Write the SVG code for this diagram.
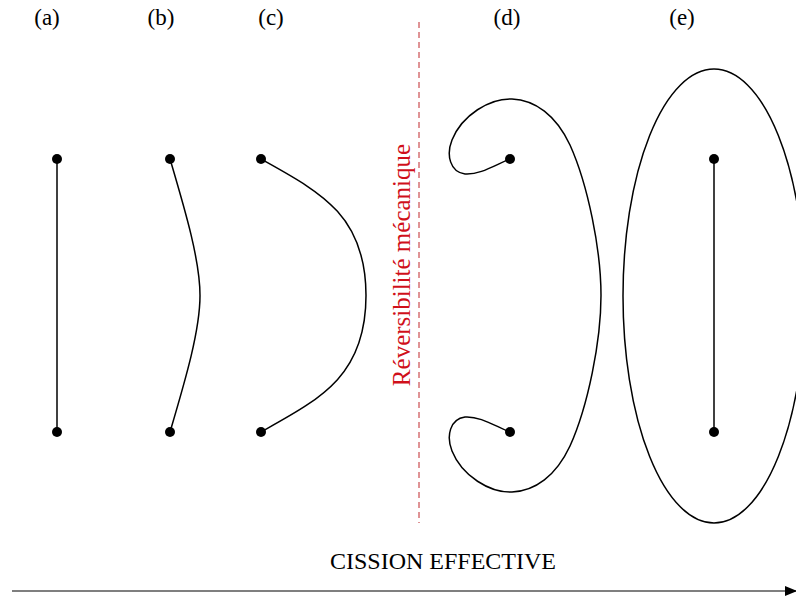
<svg xmlns="http://www.w3.org/2000/svg" width="796" height="597" viewBox="0 0 796 597">
<style>
.lbl{font-family:"Liberation Serif","Times New Roman",serif;font-size:23px;fill:#000;text-anchor:middle}
.big{font-size:24px}
.chain{fill:none;stroke:#000;stroke-width:1.5}
.dot{fill:#000}
</style>
<defs>
<marker id="ah" markerWidth="12" markerHeight="10" refX="11" refY="5" orient="auto" markerUnits="userSpaceOnUse">
<path d="M0,0 L12,5 L0,10 Z" fill="#000"/>
</marker>
</defs>
<rect width="796" height="597" fill="#fff"/>
<g id="labels">
<text class="lbl" x="47" y="25">(a)</text>
<text class="lbl" x="161" y="25">(b)</text>
<text class="lbl" x="271" y="25">(c)</text>
<text class="lbl" x="507" y="25">(d)</text>
<text class="lbl" x="682" y="25">(e)</text>
</g>
<g id="a">
<path class="chain" d="M57,159 L57,432"/>
<circle class="dot" cx="57" cy="159" r="5"/><circle class="dot" cx="57" cy="432" r="5"/>
</g>
<g id="b">
<path class="chain" d="M170,159 C185,210 200,260 200,295.5 C200,331 185,381 170,432"/>
<circle class="dot" cx="170" cy="159" r="5"/><circle class="dot" cx="170" cy="432" r="5"/>
</g>
<g id="c">
<path class="chain" d="M261,159 C320,192 366,215 366,295.5 C366,376 320,399 261,432"/>
<circle class="dot" cx="261" cy="159" r="5"/><circle class="dot" cx="261" cy="432" r="5"/>
</g>
<g id="separator">
<line x1="419" y1="22" x2="419" y2="523" stroke="#c0282d" stroke-width="1" stroke-dasharray="6,4"/>
<text x="0" y="0" transform="translate(410,265) rotate(-90)" font-family="'Liberation Serif','Times New Roman',serif" font-size="25" fill="#d0101a" text-anchor="middle">Réversibilité mécanique</text>
</g>
<g id="d">
<path class="chain" d="M510,159 C495,165 480,175 465,174 C450,172 446,155 452,140 C462,115 490,98 512,99 C535,100 556,115 570,145 C588,185 601,250 601,295.5 C601,341 588,406 570,446 C556,476 535,491 512,492 C490,493 462,476 452,451 C446,436 450,419 465,417 C480,416 495,426 510,432"/>
<circle class="dot" cx="510" cy="159" r="5"/><circle class="dot" cx="510" cy="432" r="5"/>
</g>
<g id="e">
<ellipse class="chain" cx="714" cy="296" rx="91" ry="227"/>
<path class="chain" d="M714,159 L714,432"/>
<circle class="dot" cx="714" cy="159" r="5"/><circle class="dot" cx="714" cy="432" r="5"/>
</g>
<g id="connectors">
<line x1="12" y1="591" x2="796" y2="591" stroke="#000" stroke-width="1.2" marker-end="url(#ah)"/>
<text class="lbl big" x="443" y="569">CISSION EFFECTIVE</text>
</g>
</svg>
